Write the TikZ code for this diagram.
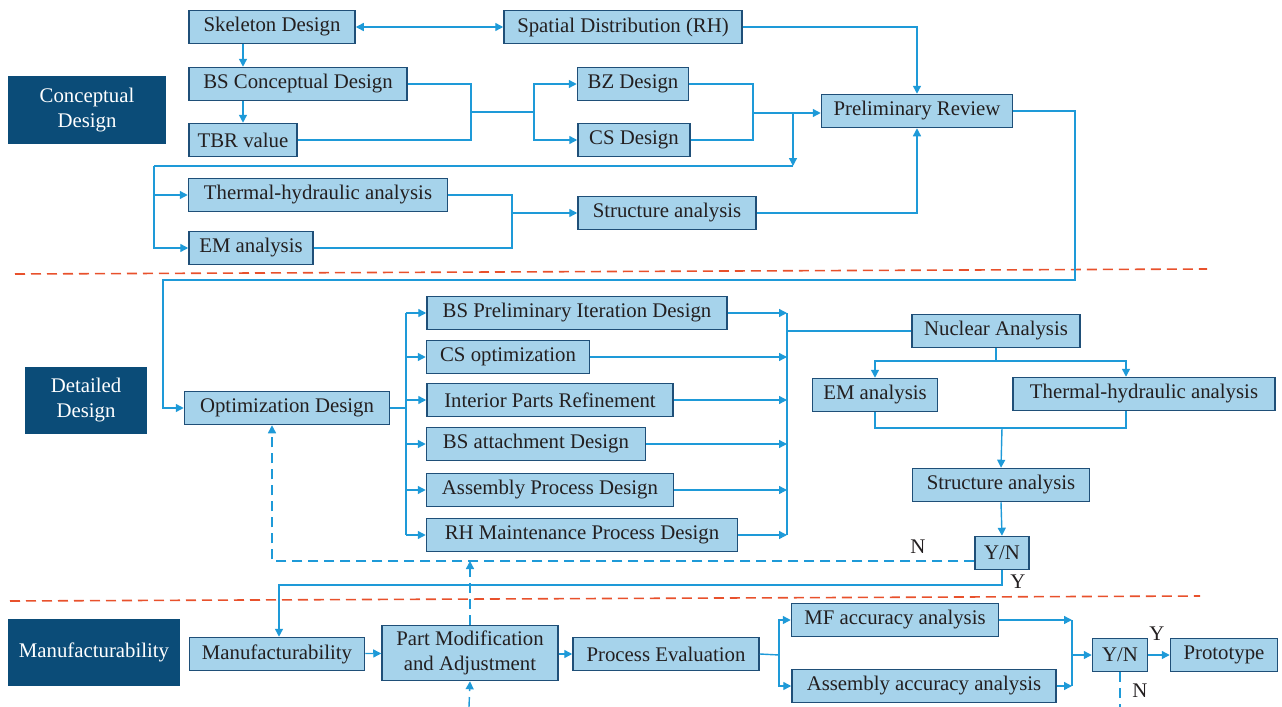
\documentclass[tikz,border=0pt]{standalone}
\usepackage{fontspec}
\setmainfont{Liberation Serif}
\usetikzlibrary{arrows.meta}

\definecolor{boxfill}{HTML}{A6D3EB}
\definecolor{boxline}{HTML}{1F4F78}
\definecolor{wire}{HTML}{1E9AD8}
\definecolor{tagfill}{HTML}{0B4C78}
\definecolor{cutline}{HTML}{E8512C}
\definecolor{ink}{HTML}{231F20}

\tikzset{
	box/.style={draw=boxline, line width=0.75pt, fill=boxfill, text=ink, minimum height=16.5pt, inner sep=0pt, font=\fontsize{10.4}{12.5}\selectfont},
	tag/.style={fill=tagfill, text=white, align=center, inner sep=0pt, font=\fontsize{10.4}{12.5}\selectfont},
	note/.style={text=ink, inner sep=0pt, font=\fontsize{10.4}{12.5}\selectfont},
	link/.style={draw=wire, line width=0.7pt},
	flow/.style={link, -{Triangle[length=4pt,width=4pt]}},
	back/.style={flow, dash pattern=on 5pt off 3pt},
	cut/.style={draw=cutline, line width=0.8pt, dash pattern=on 5pt off 3pt}
}

\begin{document}
\begin{tikzpicture}[x=0.5pt,y=-0.5pt]
	\useasboundingbox (0,0) rectangle (1282,707);

	\draw[cut] (15,274) -- (1207,269);
	\draw[cut] (10,601) -- (1200,596);

	\node[tag, minimum width=79pt, minimum height=34pt] (tagc) at (87,110) {Conceptual\\Design};
	\node[tag, minimum width=61pt, minimum height=33.5pt] (tagd) at (86,400) {Detailed\\Design};
	\node[tag, minimum width=86pt, minimum height=33.5pt] (tagm) at (94,652) {Manufacturability};

	\node[box, minimum width=83pt] (sk) at (272,27) {Skeleton Design};
	\node[box, minimum width=119pt] (sd) at (623,27) {Spatial Distribution (RH)};
	\node[box, minimum width=109pt] (bsc) at (298,84) {BS Conceptual Design};
	\node[box, minimum width=54pt] (tbr) at (243,140) {TBR value};
	\node[box, minimum width=55.5pt] (bz) at (633,84) {BZ Design};
	\node[box, minimum width=56pt] (cs) at (634,140) {CS Design};
	\node[box, minimum width=95.5pt] (pr) at (917,111) {Preliminary Review};
	\node[box, minimum width=129.5pt] (th1) at (318,195) {Thermal-hydraulic analysis};
	\node[box, minimum width=62pt] (em1) at (251,248) {EM analysis};
	\node[box, minimum width=89pt] (st1) at (667,213) {Structure analysis};

	\node[box, minimum width=102.5pt] (opt) at (287,408) {Optimization Design};
	\node[box, minimum width=150pt] (d1) at (577,313) {BS Preliminary Iteration Design};
	\node[box, minimum width=81.5pt] (d2) at (508,357) {CS optimization};
	\node[box, minimum width=123pt] (d3) at (550,400) {Interior Parts Refinement};
	\node[box, minimum width=109.5pt] (d4) at (536,444) {BS attachment Design};
	\node[box, minimum width=123.5pt] (d5) at (550,490) {Assembly Process Design};
	\node[box, minimum width=155.5pt] (d6) at (582,535) {RH Maintenance Process Design};
	\node[box, minimum width=84pt] (na) at (996,331) {Nuclear Analysis};
	\node[box, minimum width=62.5pt] (em2) at (875,395) {EM analysis};
	\node[box, minimum width=131pt] (th2) at (1144,394) {Thermal-hydraulic analysis};
	\node[box, minimum width=88.5pt] (st2) at (1001,485) {Structure analysis};
	\node[box, minimum width=27pt] (yn1) at (1002,553) {Y/N};

	\node[box, minimum width=87.5pt] (mfb) at (277,654) {Manufacturability};
	\node[box, minimum width=88pt, minimum height=27.5pt, align=center] (pm) at (470,653) {Part Modification\\and Adjustment};
	\node[box, minimum width=93pt] (pe) at (666,654) {Process Evaluation};
	\node[box, minimum width=103.5pt] (mfa) at (895,620) {MF accuracy analysis};
	\node[box, minimum width=132pt] (asa) at (924,686) {Assembly accuracy analysis};
	\node[box, minimum width=27.5pt] (yn2) at (1120,655) {Y/N};
	\node[box, minimum width=53.5pt] (pt) at (1224,655) {Prototype};

	\node[note] (n1) at (918,547) {N};
	\node[note] (y1) at (1018,582) {Y};
	\node[note] (y2) at (1157,634) {Y};
	\node[note] (n2) at (1140,691) {N};

	\coordinate (j1) at (471,112);
	\coordinate (j2) at (534,112);
	\coordinate (j3) at (753,113);
	\coordinate (j4) at (793,166);
	\coordinate (j5) at (154,166);
	\coordinate (j6) at (512,213);
	\coordinate (j7) at (1075,280);
	\coordinate (j8) at (163,280);
	\coordinate (j9) at (406,408);
	\coordinate (j10) at (787,331);
	\coordinate (j11) at (996,361);
	\coordinate (j12) at (1126,361);
	\coordinate (j13) at (1002,428);
	\coordinate (j14) at (272,561);
	\coordinate (j15) at (279,585);
	\coordinate (j16) at (469,707);
	\coordinate (j17) at (779,655);
	\coordinate (j18) at (1072,655);
	\coordinate (j19) at (1120,707);

	\draw[link, {Triangle[length=4pt,width=4pt]}-{Triangle[length=4pt,width=4pt]}] (sk) -- (sd);
	\draw[flow] (sd.east) -| (pr.north);
	\draw[flow] (sk.south -| tbr) -- (bsc.north -| tbr);
	\draw[flow] (bsc.south -| tbr) -- (tbr.north);
	\draw[link] (bsc.east) -| (j1);
	\draw[link] (tbr.east) -| (j1) -- (j2);
	\draw[flow] (j2) |- (bz.west);
	\draw[flow] (j2) |- (cs.west);
	\draw[link] (bz.east) -| (j3);
	\draw[link] (cs.east) -| (j3);
	\draw[flow] (j3) -- (j3 -| pr.west);
	\draw[flow] (j3 -| j4) -- (j4);
	\draw[link] (j4) -- (j5);
	\draw[flow] (j5) |- (th1.west);
	\draw[flow] (j5) |- (em1.west);
	\draw[link] (th1.east) -| (j6);
	\draw[link] (em1.east) -| (j6);
	\draw[flow] (j6) -- (st1.west);
	\draw[flow] (st1.east) -| (pr.south);
	\draw[flow] (pr.east) -| (j7) -- (j8) |- (opt.west);

	\draw[link] (opt.east) -- (j9);
	\draw[link] (j9 |- d1.west) -- (j9 |- d6.west);
	\draw[link] (j10 |- d1.east) -- (j10 |- d6.east);
	\foreach \n in {d1,d2,d3,d4,d5,d6} {
		\draw[flow] (j9 |- \n.west) -- (\n.west);
		\draw[flow] (\n.east) -- (\n.east -| j10);
	}
	\draw[link] (j10) -- (na.west);
	\draw[link] (na.south) -- (j11);
	\draw[flow] (j11) -| (em2.north);
	\draw[flow] (j11) -- (j12) -- (j12 |- th2.north);
	\draw[link] (em2.south) |- (j13);
	\draw[link] (j12 |- th2.south) |- (j13);
	\draw[flow] (j13) -- (st2.north);
	\draw[flow] (st2.south) -- (yn1.north);
	\draw[back] (yn1.west |- j14) -- (j14) -- (j14 |- opt.south);
	\draw[flow] (yn1.south) |- (j15) -- (j15 |- mfb.north);

	\draw[back] (pm.north) -- (pm.north |- j14);
	\draw[back] (j16) -- (pm.south);
	\draw[flow] (mfb) -- (pm);
	\draw[flow] (pm.east |- pe) -- (pe.west);
	\draw[link] (pe.east) -- (j17);
	\draw[flow] (j17) |- (mfa.west);
	\draw[flow] (j17) |- (asa.west);
	\draw[flow] (mfa.east) -- (mfa.east -| j18);
	\draw[flow] (asa.east) -- (asa.east -| j18);
	\draw[link] (j18 |- mfa) -- (j18 |- asa);
	\draw[flow] (j18) -- (yn2.west);
	\draw[flow] (yn2) -- (pt);
	\draw[link, dash pattern=on 5pt off 3pt] (yn2.south) -- (j19);
\end{tikzpicture}
\end{document}
